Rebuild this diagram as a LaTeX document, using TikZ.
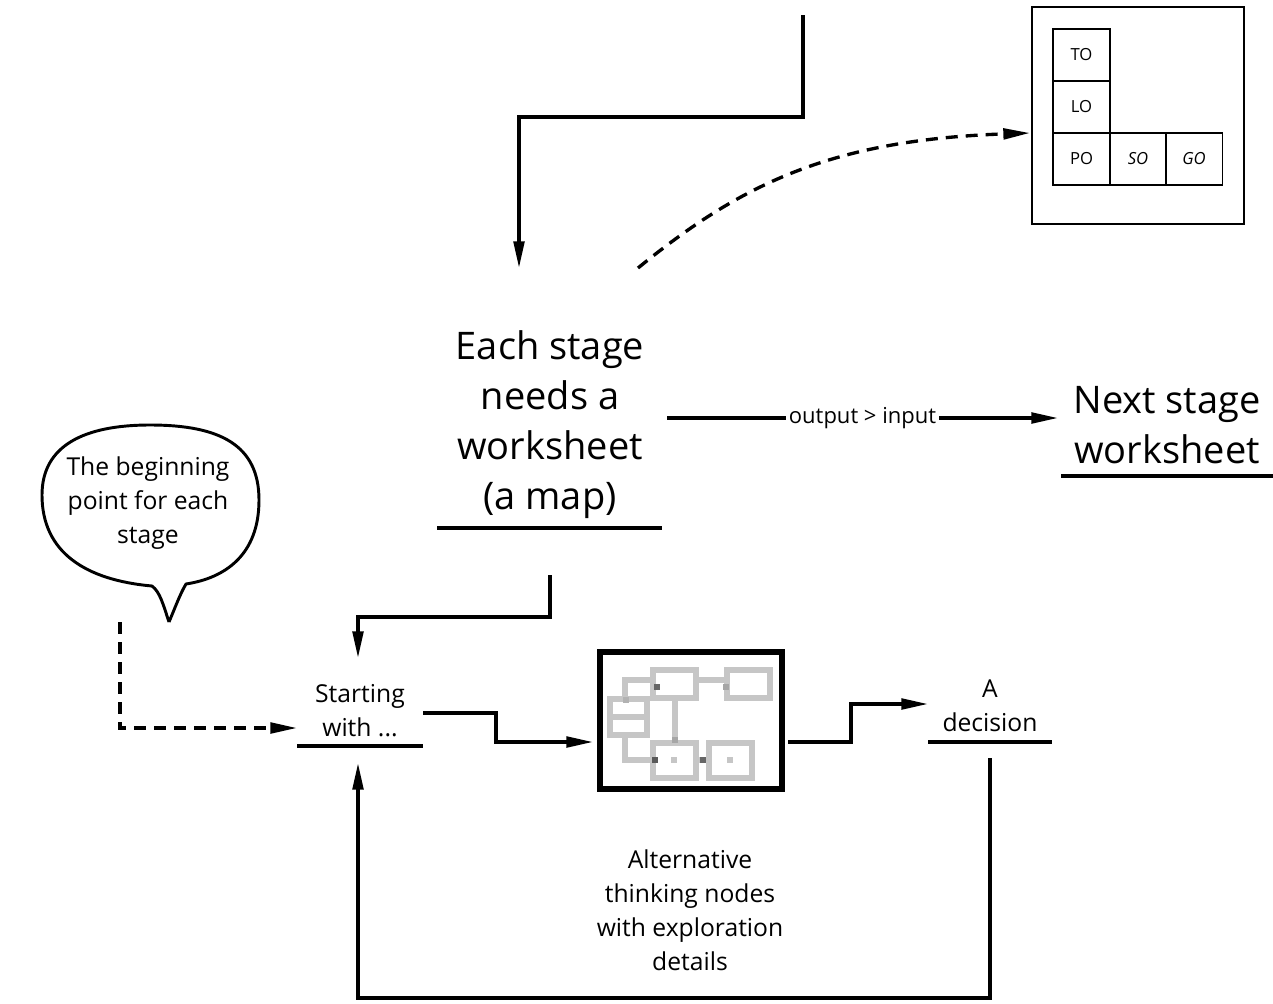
\documentclass[tikz,border=0pt]{standalone}
\usepackage{fontspec}
\setmainfont{Open Sans}
\usetikzlibrary{arrows.meta}
\begin{document}
\begin{tikzpicture}[x=0.75pt,y=-0.75pt,
  ln/.style={line width=2.5pt},
  arr/.style={ln,-{Triangle[length=20pt,width=8pt]}},
  dsh/.style={dash pattern=on 9pt off 6pt},
  uline/.style={line width=2.5pt},
  big/.style={font=\fontsize{28.5}{37.5}\selectfont,align=center,inner sep=0pt},
  mid/.style={font=\fontsize{18.5}{25.5}\selectfont,align=center,inner sep=0pt},
  lbl/.style={font=\fontsize{16.5}{18}\selectfont,fill=white,inner sep=2pt},
  cell/.style={draw,line width=1.2pt,minimum width=42.75pt,minimum height=39pt,inner sep=0pt,font=\fontsize{12.5}{14}\selectfont},
  pix/.style={draw=gray!45,line width=4pt},
]
\useasboundingbox (0,0) rectangle (1273,1003);

% ---------- top right frame ----------
\node[draw,line width=1.6pt,minimum width=159pt,minimum height=162.75pt,inner sep=0pt] (frame) at (1138,115.5) {};
\node[cell] (to) at (1081.5,55) {TO};
\node[cell] (lo) at (1081.5,107) {LO};
\node[cell] (po) at (1081.5,159) {PO};
\node[cell] (so) at (1138,159) {\itshape SO};
\node[cell] (go) at (1194,159) {\itshape GO};

% ---------- text nodes ----------
\node[big] (main) at (550,425) {Each stage\\needs a\\worksheet\\(a map)};
\node[big] (next) at (1167,425) {Next stage\\worksheet};
\node[mid] (bubtxt) at (148,503) {The beginning\\point for each\\stage};
\node[mid] (start) at (360,711) {Starting\\with ...};
\node[mid] (dec) at (990,706) {A\\decision};
\node[mid] (alt) at (690,910) {Alternative\\thinking nodes\\with exploration\\details};

% underlines
\draw[uline] (437,528) -- (662,528);
\draw[uline] (1061,476) -- (1273,476);
\draw[uline] (297,746) -- (423,746);
\draw[uline] (928,742) -- (1052,742);

% ---------- speech bubble ----------
\draw[line width=2.2pt,line join=round]
  (169,622) .. controls (163,604) and (160,592) .. (152,586)
  .. controls (85,580) and (42,552) .. (42,495)
  .. controls (42,445) and (85,425) .. (150,425)
  .. controls (220,425) and (259,445) .. (259,500)
  .. controls (259,555) and (225,578) .. (186,584)
  .. controls (180,594) and (175,608) .. (169,622);

% ---------- image box ----------
\node[draw,line width=4.5pt,minimum width=136.5pt,minimum height=102.75pt,inner sep=0pt] (img) at (691,720) {};
\begin{scope}
  \draw[pix] (653,670) rectangle (696,698);
  \draw[pix] (727,670) rectangle (770,698);
  \draw[pix] (696,680) -- (727,680);
  \draw[pix] (610,699) rectangle (647,735);
  \draw[pix] (610,717) -- (647,717);
  \draw[pix] (625,699) -- (625,680) -- (653,680);
  \draw[pix] (675,698) -- (675,743);
  \draw[pix] (653,743) rectangle (696,778);
  \draw[pix] (709,743) rectangle (752,778);
  \draw[pix] (696,760) -- (709,760);
  \draw[pix] (625,735) -- (625,760) -- (653,760);
  \fill[gray!80!black] (654,684) rectangle (660,690);
  \fill[gray!70] (672,737) rectangle (678,743);
  \fill[gray!70!black] (652,757) rectangle (658,763);
  \fill[gray!80!black] (700,757) rectangle (706,763);
  \fill[gray!70] (723,684) rectangle (729,690);
  \fill[gray!60] (623,697) rectangle (629,703);
  \fill[gray!45] (671,757) rectangle (677,763);
  \fill[gray!45] (727,757) rectangle (733,763);
\end{scope}

% ---------- connector endpoints ----------
\coordinate (topsrc) at (803,15);
\coordinate (mainin) at (519,268);
\coordinate (curvesrc) at (638,268);
\coordinate (framein) at (1030,133);
\coordinate (mainout) at (667,418);
\coordinate (nextin) at (1058,418);
\coordinate (mainbot) at (550,575);
\coordinate (startin) at (358,658);
\coordinate (bubtail) at (120,622);
\coordinate (startw) at (297,728);
\coordinate (starte) at (423,713);
\coordinate (imgin) at (593,742);
\coordinate (imgout) at (788,742);
\coordinate (decin) at (928,704);
\coordinate (decbot) at (990,758);
\coordinate (startbot) at (358,763);

% ---------- connectors ----------
\draw[arr] (topsrc) -- (803,117) -- (519,117) -- (mainin);
\draw[arr,dsh] (curvesrc) .. controls (740,185) and (830,140) .. (framein);
\draw[arr] (mainout) -- node[lbl] {output > input} (nextin);
\draw[arr] (mainbot) -- (550,617) -- (358,617) -- (startin);
\draw[arr,dsh] (bubtail) -- (120,728) -- (startw);
\draw[arr] (starte) -- (496,713) -- (496,742) -- (imgin);
\draw[arr] (imgout) -- (851,742) -- (851,704) -- (decin);
\draw[arr] (decbot) -- (990,998) -- (358,998) -- (startbot);
\end{tikzpicture}
\end{document}
